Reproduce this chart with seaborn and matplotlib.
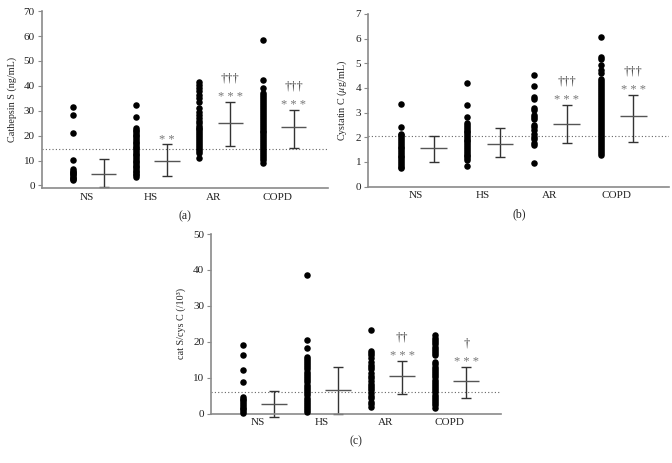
import numpy as np
import pandas as pd
import matplotlib
matplotlib.use("Agg")
import matplotlib.pyplot as plt
import seaborn as sns

grupos = ["NS", "HS", "AR", "COPD"]

# (a) catepsina S (ng/mL)
cat_ns = [31.5, 28.2, 21.0, 10.3, 6.5, 6.0, 5.5, 5.0, 4.5, 4.0, 3.5, 3.0, 2.5, 2.0]
cat_hs = [32.5, 27.5, 23.0, 22.4, 21.7, 21.0, 20.3, 19.7, 19.0, 18.3, 17.6, 16.9,
          16.2, 15.6, 14.9, 14.2, 13.5, 12.8, 12.1, 11.4, 10.7, 10.0, 9.4, 8.7,
          8.0, 7.3, 6.6, 6.0, 5.3, 4.7, 4.1, 3.5]
cat_ar = [41.5, 40.5, 39.3, 38.0, 36.5, 35.0, 33.5, 31.0, 29.5, 28.3, 27.0, 26.0,
          25.0, 24.0, 23.2, 22.5, 21.7, 21.0, 20.2, 19.4, 18.6, 17.8, 17.0, 16.2,
          15.4, 14.6, 13.8, 13.0, 11.2]
cat_copd = [58.5, 42.5, 39.0, 37.0, 36.2, 35.4, 34.6, 33.8, 33.0, 32.3, 31.5, 30.7,
            29.9, 29.1, 28.3, 27.5, 26.8, 26.0, 25.2, 24.4, 23.6, 22.8, 22.0, 21.3,
            20.5, 19.7, 18.9, 18.1, 17.3, 16.5, 15.8, 15.0, 14.2, 13.4, 12.6, 11.8,
            11.1, 10.4, 9.0]
cat_media = [4.7, 9.7, 25.2, 23.5]
cat_inf = [-0.7, 3.7, 15.7, 15.0]
cat_sup = [10.6, 16.5, 33.5, 30.4]
cat_ref = 14.8
cat_est = ["", "**", "***", "***"]
cat_dag = ["", "", "†††", "†††"]

# (b) cistatina C (ug/mL)
cys_ns = [3.35, 2.42, 2.15, 2.08, 2.0, 1.92, 1.85, 1.77, 1.7, 1.62, 1.55, 1.48,
          1.4, 1.33, 1.25, 1.18, 1.1, 1.03, 0.96, 0.88, 0.8, 0.75]
cys_hs = [4.2, 3.3, 2.82, 2.57, 2.5, 2.42, 2.35, 2.27, 2.2, 2.12, 2.05, 1.98, 1.9,
          1.83, 1.75, 1.68, 1.6, 1.53, 1.45, 1.38, 1.3, 1.23, 1.15, 1.08, 0.85]
cys_ar = [4.52, 4.08, 3.62, 3.55, 3.18, 3.1, 2.9, 2.82, 2.72, 2.48, 2.4, 2.28,
          2.12, 2.02, 1.92, 1.76, 1.68, 0.96]
cys_copd = [6.05, 5.25, 5.18, 4.93, 4.72, 4.6, 4.35, 4.27, 4.19, 4.1, 4.02, 3.94,
            3.86, 3.78, 3.7, 3.62, 3.54, 3.46, 3.38, 3.3, 3.22, 3.14, 3.06, 2.98,
            2.9, 2.82, 2.74, 2.66, 2.58, 2.5, 2.42, 2.34, 2.26, 2.18, 2.1, 2.02,
            1.94, 1.86, 1.78, 1.7, 1.62, 1.54, 1.46, 1.38, 1.3]
cys_media = [1.55, 1.72, 2.54, 2.88]
cys_inf = [0.99, 1.19, 1.76, 1.80]
cys_sup = [2.05, 2.37, 3.32, 3.73]
cys_ref = 2.04
cys_est = ["", "", "***", "***"]
cys_dag = ["", "", "†††", "†††"]

# (c) cociente cat S / cys C
rat_ns = [19.2, 16.2, 12.2, 8.7, 4.7, 4.2, 3.7, 3.2, 2.7, 2.2, 1.7, 1.2, 0.7, 0.2]
rat_hs = [38.5, 20.4, 18.2, 15.9, 15.3, 14.7, 14.1, 13.5, 12.9, 12.3, 11.7, 11.1,
          10.5, 9.9, 9.3, 8.7, 8.1, 7.5, 6.9, 6.3, 5.7, 5.1, 4.5, 3.9, 3.3, 2.7,
          2.1, 1.5, 0.9, 0.5]
rat_ar = [23.2, 17.4, 16.8, 16.2, 15.6, 14.5, 13.5, 12.9, 12.3, 11.2, 10.6, 9.8,
          9.1, 8.4, 7.8, 7.1, 6.5, 5.8, 5.0, 4.4, 3.3, 2.6, 1.9]
rat_copd = [21.8, 21.2, 20.6, 20.0, 19.4, 18.7, 18.1, 17.5, 16.8, 16.2, 14.3, 13.7,
            13.1, 12.5, 11.9, 11.3, 10.7, 10.1, 9.5, 8.9, 8.3, 7.7, 7.1, 6.5, 5.9,
            5.3, 4.7, 4.1, 3.5, 2.9, 2.3, 1.7]
rat_media = [2.7, 6.6, 10.4, 9.1]
rat_inf = [-0.9, 0.0, 5.5, 4.4]
rat_sup = [6.2, 13.0, 14.8, 13.1]
rat_ref = 6.0
rat_est = ["", "", "***", "***"]
rat_dag = ["", "", "††", "†"]

sns.set_style("white")
plt.rcParams["font.family"] = ["Liberation Serif", "DejaVu Serif"]
plt.rcParams["mathtext.fontset"] = "stix"

GRIS = "#8a8a8a"


def panel(ax, columnas, media, inf, sup, ref, est, dag, ylim, yticks, ylabel, letra):
    df = pd.concat([pd.DataFrame({"grupo": g, "valor": v}) for g, v in zip(grupos, columnas)],
                   ignore_index=True)
    df["x"] = df["grupo"].map({g: i for i, g in enumerate(grupos)}) - 0.23
    sns.scatterplot(data=df, x="x", y="valor", color="black", s=22, linewidth=0,
                    ax=ax, legend=False, clip_on=False, zorder=3)

    xb = np.arange(len(grupos)) + 0.26
    media = np.array(media)
    yerr = [media - np.array(inf), np.array(sup) - media]
    ax.errorbar(xb, media, yerr=yerr, fmt="none", ecolor="#333333", elinewidth=1.0,
                capsize=3.6, capthick=1.0, clip_on=False, zorder=2)
    ax.hlines(media, xb - 0.2, xb + 0.2, color="#555555", lw=1.0, zorder=2)

    ax.axhline(ref, color="#666666", ls=(0, (1, 2)), lw=0.8, zorder=1)

    for x, y, s, d in zip(xb, sup, est, dag):
        if s:
            ax.annotate(" ".join(s), (x, y), xytext=(0, -1), textcoords="offset points",
                        ha="center", va="bottom", fontsize=9, color="#777777")
        if d:
            ax.annotate(d, (x, y), xytext=(0, 12.5), textcoords="offset points",
                        ha="center", va="bottom", fontsize=9, color="#444444")

    ax.set_xlim(-0.72, 3.8)
    ax.set_ylim(*ylim)
    ax.set_yticks(yticks)
    ax.set_xticks(range(len(grupos)))
    ax.set_xticklabels(grupos)
    ax.set_xlabel(letra, fontsize=8.5, labelpad=6)
    ax.set_ylabel(ylabel, fontsize=7.3, labelpad=5)
    ax.tick_params(axis="both", labelsize=8, colors="#222222")
    ax.tick_params(axis="x", length=0, pad=3)
    ax.tick_params(axis="y", length=3, width=0.8, color=GRIS, left=True, pad=2)
    sns.despine(ax=ax)
    for sp in ["left", "bottom"]:
        ax.spines[sp].set_color(GRIS)
        ax.spines[sp].set_linewidth(1.2)


fig = plt.figure(figsize=(6.72, 4.63), dpi=100)
ax_a = fig.add_axes([0.062, 0.593, 0.426, 0.383])
ax_b = fig.add_axes([0.548, 0.597, 0.448, 0.373])
ax_c = fig.add_axes([0.3144, 0.1065, 0.431, 0.388])

panel(ax_a, [cat_ns, cat_hs, cat_ar, cat_copd], cat_media, cat_inf, cat_sup, cat_ref,
      cat_est, cat_dag, (-1.2, 70), range(0, 71, 10), "Cathepsin S (ng/mL)", "(a)")
panel(ax_b, [cys_ns, cys_hs, cys_ar, cys_copd], cys_media, cys_inf, cys_sup, cys_ref,
      cys_est, cys_dag, (0, 7), range(0, 8), r"Cystatin C ($\mu$g/mL)", "(b)")
panel(ax_c, [rat_ns, rat_hs, rat_ar, rat_copd], rat_media, rat_inf, rat_sup, rat_ref,
      rat_est, rat_dag, (0, 50), range(0, 51, 10), "cat S/cys C (/10³)", "(c)")

fig.savefig("out.png", dpi=100)
